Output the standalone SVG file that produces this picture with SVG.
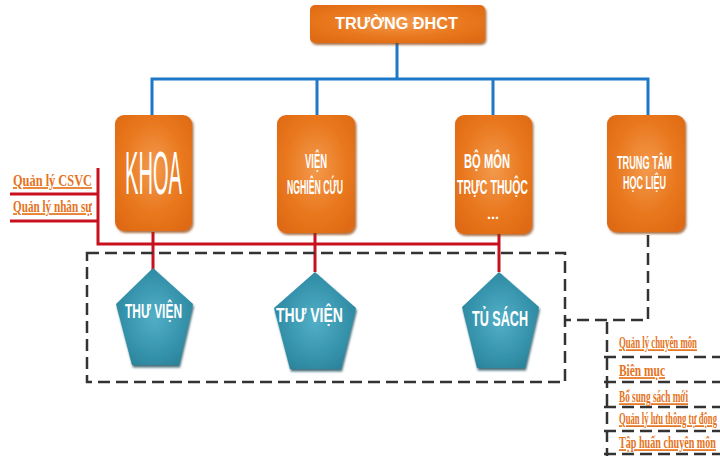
<svg xmlns="http://www.w3.org/2000/svg" width="720" height="459" viewBox="0 0 720 459">
<defs>
<radialGradient id="og" cx="50%" cy="45%" r="65%">
<stop offset="0" stop-color="#F39A4C"/>
<stop offset="0.6" stop-color="#E9781F"/>
<stop offset="1" stop-color="#DF6A12"/>
</radialGradient>
<radialGradient id="tg" cx="50%" cy="50%" r="60%">
<stop offset="0" stop-color="#52AFC7"/>
<stop offset="0.7" stop-color="#3391A9"/>
<stop offset="1" stop-color="#2A8198"/>
</radialGradient>
<filter id="sh" x="-10%" y="-10%" width="125%" height="125%">
<feDropShadow dx="1.5" dy="2" stdDeviation="1.2" flood-color="#8A3E05" flood-opacity="0.7"/>
</filter>
<filter id="sht" x="-10%" y="-10%" width="125%" height="125%">
<feDropShadow dx="1" dy="2.5" stdDeviation="1" flood-color="#164E5C" flood-opacity="0.8"/>
</filter>
</defs>
<style>
.box{fill:url(#og);filter:url(#sh)}
.pent{fill:url(#tg);filter:url(#sht)}
.bt{font-family:"Liberation Sans",Arial,sans-serif;font-weight:bold;fill:#FFFFFF}
.blue{stroke:#1E78C8;stroke-width:3;fill:none}
.red{stroke:#C8101E;stroke-width:3;fill:none}
.dash{stroke:#333333;stroke-width:2.5;fill:none;stroke-dasharray:12 6}
.lbl{font-family:"Liberation Serif","Times New Roman",serif;font-weight:bold;fill:#E5731C;font-size:17px;text-decoration:underline}
</style>
<rect width="720" height="459" fill="#FFFFFF"/>
<g id="connectors">
<path class="blue" d="M397,43 V79 M152,115 V79 H648 V115 M317,79 V115 M493,79 V115"/>
<path class="red" d="M10,194 H98 M10,221 H98 M98,168 V244 H499 M153,232 V270 M315,233 V272 M499,234 V272"/>
<rect class="dash" x="87" y="253" width="478" height="129"/>
<path class="dash" d="M648,235 V320 H566 M607,322 V456"/>
<path class="dash" d="M604,357 H720 M604,382 H720 M604,407 H720 M604,431 H720 M604,454 H720"/>
</g>
<g id="truong">
<rect class="box" x="310" y="5" width="175" height="38" rx="5"/>
<text class="bt" x="335" y="29" font-size="16" textLength="123" lengthAdjust="spacingAndGlyphs">TRƯỜNG ĐHCT</text>
</g>
<g id="khoa">
<rect class="box" x="115" y="115" width="77" height="116" rx="9"/>
<text class="bt" transform="translate(125,194) scale(0.324,1)" font-size="62" textLength="176" lengthAdjust="spacingAndGlyphs" style="font-weight:normal">KHOA</text>
</g>
<g id="vien">
<rect class="box" x="277" y="115" width="78" height="118" rx="9"/>
<text class="bt" transform="translate(305,168) scale(0.449,1)" font-size="20" textLength="49" lengthAdjust="spacingAndGlyphs">VIỆN</text>
<text class="bt" transform="translate(287,194) scale(0.419,1)" font-size="20" textLength="133.6" lengthAdjust="spacingAndGlyphs">NGHIÊN CỨU</text>
</g>
<g id="bomon">
<rect class="box" x="455" y="115" width="77" height="119" rx="9"/>
<text class="bt" transform="translate(464,168) scale(0.533,1)" font-size="20" textLength="86.3" lengthAdjust="spacingAndGlyphs">BỘ MÔN</text>
<text class="bt" transform="translate(457,194) scale(0.509,1)" font-size="20" textLength="139.5" lengthAdjust="spacingAndGlyphs">TRỰC THUỘC</text>
<text class="bt" x="487" y="219" font-size="14" textLength="12" lengthAdjust="spacingAndGlyphs">...</text>
</g>
<g id="trungtam">
<rect class="box" x="607" y="115" width="78" height="117" rx="9"/>
<text class="bt" transform="translate(617,169) scale(0.482,1)" font-size="19" textLength="114.1" lengthAdjust="spacingAndGlyphs">TRUNG TÂM</text>
<text class="bt" transform="translate(623,189) scale(0.474,1)" font-size="19" textLength="90.7" lengthAdjust="spacingAndGlyphs">HỌC LIỆU</text>
</g>
<g id="thuvien1">
<polygon class="pent" points="153,268 193,304 179,365 132,365 116,304"/>
<text class="bt" transform="translate(125,318) scale(0.577,1)" font-size="21" textLength="98.8" lengthAdjust="spacingAndGlyphs">THƯ VIỆN</text>
</g>
<g id="thuvien2">
<polygon class="pent" points="315,272 356,308 341,369 290,369 274,308"/>
<text class="bt" transform="translate(276,322) scale(0.678,1)" font-size="21" textLength="98.8" lengthAdjust="spacingAndGlyphs">THƯ VIỆN</text>
</g>
<g id="tusach">
<polygon class="pent" points="499,272 539,307 525,368 477,368 462,307"/>
<text class="bt" transform="translate(472,326) scale(0.573,1)" font-size="22" textLength="97.7" lengthAdjust="spacingAndGlyphs">TỦ SÁCH</text>
</g>
<g id="left-labels">
<text class="lbl" transform="translate(13,186) scale(0.727,1)" textLength="108.7" lengthAdjust="spacingAndGlyphs">Quản lý CSVC</text>
<text class="lbl" transform="translate(13,212) scale(0.657,1)" textLength="120.2" lengthAdjust="spacingAndGlyphs">Quản lý nhân sự</text>
</g>
<g id="right-labels">
<text class="lbl" transform="translate(619,348) scale(0.518,1)" textLength="150.6" lengthAdjust="spacingAndGlyphs">Quản lý chuyên môn</text>
<text class="lbl" transform="translate(619,376) scale(0.672,1)" textLength="68.5" lengthAdjust="spacingAndGlyphs">Biên mục</text>
<text class="lbl" transform="translate(619,402) scale(0.543,1)" textLength="127.1" lengthAdjust="spacingAndGlyphs">Bổ sung sách mới</text>
<text class="lbl" transform="translate(619,424) scale(0.508,1)" textLength="192.9" lengthAdjust="spacingAndGlyphs">Quản lý lưu thông tự động</text>
<text class="lbl" transform="translate(619,448) scale(0.595,1)" textLength="163" lengthAdjust="spacingAndGlyphs">Tập huấn chuyên môn</text>
</g>
</svg>
